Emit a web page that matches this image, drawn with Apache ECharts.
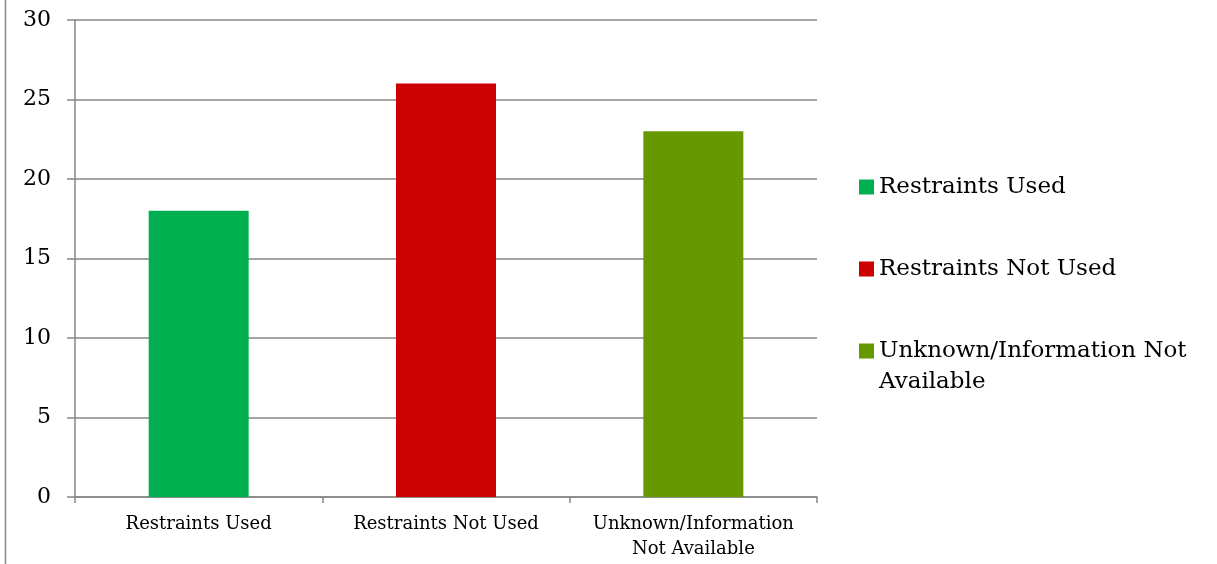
<!DOCTYPE html>
<html><head><meta charset="utf-8">
<script src="https://cdn.jsdelivr.net/npm/echarts@6/dist/echarts.min.js"></script>
<style>html,body{margin:0;padding:0;background:#fff}#c{width:1217px;height:564px}</style>
</head><body><div id="c"></div>
<script>
var categories = ['Restraints Used', 'Restraints Not Used', 'Unknown/Information\nNot Available'];
var seriesNames = ['Restraints Used', 'Restraints Not Used', 'Unknown/Information Not Available'];
var legendLine1 = ['Restraints Used', 'Restraints Not Used', 'Unknown/Information Not'];
var legendLine2 = ['', '', 'Available'];
var values = [18, 26, 23];
var colors = ['#00B050', '#CC0000', '#669900'];
var yTicks = [0, 5, 10, 15, 20, 25, 30];

var FONT = 'DejaVu Serif';
var LEG_FS = 23, LEG_TOP = 172, LEG_GAP = 52, LEG_LH = 30;
var series = seriesNames.map(function (n, i) {
  var d = categories.map(function (c, j) { return j === i ? values[i] : '-'; });
  return { name: n, type: 'bar', stack: 'all', data: d, barWidth: 100, itemStyle: { color: colors[i] } };
});
var graphics = [{ type: 'line', shape: { x1: 5.5, y1: 0, x2: 5.5, y2: 564 }, style: { stroke: '#888', lineWidth: 1.5 } }];
legendLine2.forEach(function (t, i) {
  if (!t) return;
  var cy = LEG_TOP + i * (LEG_LH + LEG_GAP) + LEG_LH / 2 + LEG_LH + 1;
  graphics.push({ type: 'text', left: 879, top: cy - LEG_LH / 2,
    style: { text: t, font: LEG_FS + 'px "' + FONT + '"', fill: '#000', lineHeight: LEG_LH, verticalAlign: 'top' } });
});
var chart = echarts.init(document.getElementById('c'), null, { renderer: 'canvas' });
chart.setOption({
  animation: false,
  textStyle: { fontFamily: FONT },
  grid: { left: 75, right: 400, top: 20, bottom: 67, containLabel: false },
  graphic: graphics,
  legend: {
    orient: 'vertical', left: 859, top: LEG_TOP, itemWidth: 15, itemHeight: 15, itemGap: LEG_GAP,
    icon: 'rect', padding: 0,
    formatter: function (name) { return legendLine1[seriesNames.indexOf(name)]; },
    textStyle: { fontFamily: FONT, fontSize: LEG_FS, color: '#000', lineHeight: LEG_LH },
    data: seriesNames
  },
  xAxis: {
    type: 'category', data: categories,
    axisLine: { lineStyle: { color: '#868686', width: 1.5 } },
    axisTick: { show: true, length: 6, alignWithLabel: false, lineStyle: { color: '#868686', width: 1.5 } },
    axisLabel: { fontFamily: FONT, fontSize: 18, color: '#000', margin: 15, lineHeight: 25, interval: 0 }
  },
  yAxis: {
    type: 'value', min: yTicks[0], max: yTicks[yTicks.length - 1], interval: 5,
    axisLine: { show: true, lineStyle: { color: '#868686', width: 1.5 } },
    axisTick: { show: true, length: 8, lineStyle: { color: '#868686', width: 1.5 } },
    splitLine: { lineStyle: { color: '#868686', width: 1.5 } },
    axisLabel: { fontFamily: FONT, fontSize: 22, color: '#000', margin: 24 }
  },
  series: series
});
</script></body></html>
